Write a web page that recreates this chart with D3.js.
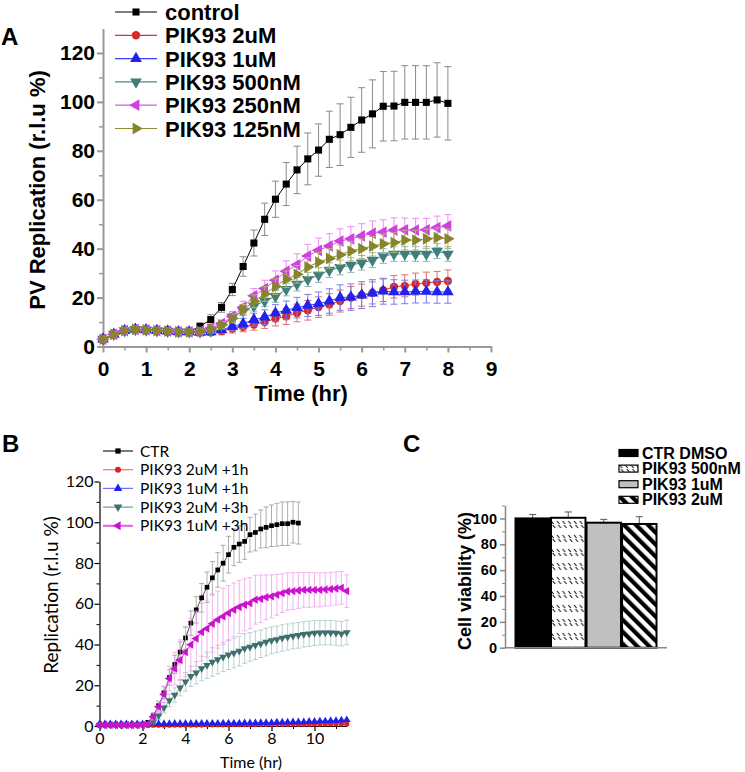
<!DOCTYPE html>
<html><head><meta charset="utf-8">
<script src="https://cdn.jsdelivr.net/npm/d3@7"></script>
<style>body{margin:0;background:#fff} svg{display:block}</style>
</head><body><svg id="chart" width="745" height="772"></svg>
<script>
// ---------- Panel A data ----------
const timeA = [0,0.25,0.5,0.75,1,1.25,1.5,1.75,2,2.25,2.5,2.75,3,3.25,3.5,3.75,4,4.25,4.5,4.75,5,5.25,5.5,5.75,6,6.25,6.5,6.75,7,7.25,7.5,7.75,8];
const seriesNamesA = ["control","PIK93 2uM","PIK93 1uM","PIK93 500nM","PIK93 250nM","PIK93 125nM"];
const controlA = [3,5,6.5,7,6.8,6.5,6.3,6,6,8.2,11,16,23.3,32.7,42.3,52,60.2,66.4,72.2,76.7,80.3,84.7,86.6,89.6,92.6,95.1,98.2,98.3,99.8,99.8,99.8,100.8,99.4];
const controlErrA = [1,1,1,1,1,1,1,1,1.2,1.5,2,2,2.5,4,5.3,6.6,7.4,8.8,9.7,10.6,10.7,11.5,12.6,12.3,13.2,13.9,14.2,14.2,15,15,15,15.2,15];
const pik2uMA = [3,5,6.5,7,6.8,6.5,6.3,6,6,5.8,5.8,6.3,7.3,8,9,10,11.4,12.3,13.7,14.8,16.1,17.2,18.6,20,21,21.9,23,24.4,24.8,25.5,26,26.4,26.8];
const pik2uMErrA = [1.2,1.2,1.2,1.2,1.2,1.2,1.2,1.2,1.2,1.2,1.3,1.5,1.8,2,2.3,2.6,3,3.3,3.6,4,4.2,4.4,4.5,4.5,4.5,4.5,4.6,4.6,4.5,4.5,4.4,4.3,4.5];
const pik1uMA = [3,5,6.5,7,6.8,6.5,6.3,6,6,5.8,6,6.8,8.2,9.3,11,12,13.7,14.8,15.9,16.8,17.5,18.6,20,20.2,21,21.8,22.6,22.3,22.3,22.5,22.5,22.3,22.3];
const pik1uMErrA = [1.2,1.2,1.2,1.2,1.2,1.2,1.2,1.2,1.2,1.2,1.3,1.5,1.8,2.2,2.6,3,3.4,3.8,4.2,4.5,4.8,5,5.2,5.4,5.5,5.5,5.3,5,4.8,4.7,4.7,4.6,4.6];
const pik500A = [3,5,6.5,7,6.8,6.5,6.3,6,6,6,6.5,8.5,12,14.5,16.5,18.5,20.5,23.3,25.5,27.4,29.2,31.2,32.3,33.3,34.2,35.3,37,37.8,37.8,37.8,37.8,39,37.8];
const pik500ErrA = [1,1,1,1,1,1,1,1,1,1,1.1,1.3,1.6,1.8,2,2.2,2.4,2.6,2.8,2.9,3,3,3,3,3,3,3,3,3,3,3,3,3];
const pik250A = [3,5,6.5,7,6.8,6.5,6.3,6,6,6.2,7.5,9.3,12.3,16,20.7,23.7,27.1,30.8,33.4,37,39.3,41.1,43.1,44,45.2,46.3,46.8,47.6,47.7,47.6,47.7,48.6,49.3];
const pik250ErrA = [1,1,1,1,1,1,1,1,1,1,1.2,1.5,2,2.5,3,3.4,3.8,4.2,4.5,4.8,5,5,5,5,5,5,5,5,4.8,4.8,4.7,4.7,4.6];
const pik125A = [3,5,6.5,7,6.8,6.5,6.3,6,6,6.2,7.2,8.8,11.5,15,18.5,21.5,24.5,27.5,29.5,32.5,34.5,36,37.5,39,40,41,42,42.5,43.5,43.5,44,44.5,44];
const pik125ErrA = [1,1,1,1,1,1,1,1,1,1,1.2,1.4,1.8,2.2,2.6,3,3.2,3.4,3.6,3.8,4,4,4,4,4,4,4,4,4,4,4,4,4];
const xTicksA = [0,1,2,3,4,5,6,7,8,9];
const yTicksA = [0,20,40,60,80,100,120];

// ---------- Panel B data ----------
const timeB = [0,0.25,0.5,0.75,1,1.25,1.5,1.75,2,2.25,2.5,2.75,3,3.25,3.5,3.75,4,4.25,4.5,4.75,5,5.25,5.5,5.75,6,6.25,6.5,6.75,7,7.25,7.5,7.75,8,8.25,8.5,8.75,9,9.25,9.5,9.75,10,10.25,10.5,10.75,11,11.25,11.5];
const seriesNamesB = ["CTR","PIK93 2uM +1h","PIK93 1uM +1h","PIK93 2uM +3h","PIK93 1uM +3h"];
const ctrB = [0.5,0.5,0.5,0.5,0.5,0.5,0.5,0.6,0.8,1.8,5,10,16.3,23.8,30.2,36.3,43.2,50.5,57,62.9,68.1,72.7,76.6,79.9,84.1,87.7,89.3,90.6,93.9,95,96.7,97.5,98.3,98.8,99.3,99.3,100,99.6];
const ctrErrB = [0.3,0.3,0.3,0.3,0.3,0.3,0.3,0.3,0.4,0.8,1.5,2.2,3,3.8,4.5,5,5.5,6,6.5,7,7.5,8,8.5,8.8,9,9,9,8.8,8.5,9,9.3,10,10.2,10.5,10.7,10.7,10.2,10.3];
const pik2uM1hB = [0.3,0.3,0.3,0.3,0.3,0.3,0.3,0.3,0.3,0.3,0.4,0.4,0.4,0.4,0.5,0.5,0.5,0.5,0.5,0.5,0.6,0.6,0.6,0.6,0.6,0.7,0.7,0.7,0.7,0.7,0.8,0.8,0.8,0.8,0.8,0.9,0.9,0.9,0.9,0.9,1,1,1,1,1,1,1];
const pik1uM1hB = [1,1,1,1,1,1,1,1,1,1,1.1,1.1,1.1,1.1,1.2,1.2,1.2,1.2,1.2,1.3,1.3,1.3,1.3,1.4,1.4,1.4,1.4,1.5,1.5,1.5,1.6,1.6,1.6,1.8,1.8,1.8,2,2,2,2.2,2.2,2.4,2.4,2.6,2.6,2.8,3];
const pik2uM3hB = [0.5,0.5,0.5,0.5,0.5,0.5,0.5,0.5,0.5,0.8,2,5,9,12.5,15.2,18.8,21.7,24.4,26.1,28.2,29.8,31.4,32.6,33.9,35,35.8,36.8,38,38.8,39.6,40.4,41.2,42,42.5,43.2,43.7,44.2,44.5,45,45.3,45.6,45.8,45.8,45.8,45.6,45.3,45.9];
const pik2uM3hErrB = [0.3,0.3,0.3,0.3,0.3,0.3,0.3,0.3,0.3,0.5,1,1.8,2.5,3,3.5,4,4.5,5,5.5,6,6.5,7,7,7.2,7.3,7.3,7.3,7.2,7,7,6.8,6.8,6.6,6.5,6.5,6.4,6.3,6.3,6.2,6.2,6.1,6,6,6,6,6,6];
const pik1uM3hB = [0.5,0.5,0.5,0.5,0.5,0.5,0.5,0.5,0.5,1,4.5,9.5,15.5,23.3,28.2,32.3,36.3,39.9,42.9,46.1,47.8,50.2,52.2,53.8,55.4,57,58.4,59.5,60.3,62,62.4,63.2,63.6,64.4,65.2,66,66.2,66.5,66.8,66.8,66.8,66.8,67,67.2,67.5,67.8,66.2];
const pik1uM3hErrB = [0.3,0.3,0.3,0.3,0.3,0.3,0.3,0.3,0.3,0.6,1.5,2.5,4,6,8,10,12,13,13.5,14,14,14,14,13.8,13.5,13.2,13,12.8,12.5,12,11.7,11,10.5,10,9.5,9.2,9,8.8,8.5,8.5,8.4,8.3,8.2,8.2,8.1,8,8];
const xTicksB = [0,2,4,6,8,10];
const yTicksB = [0,20,40,60,80,100,120];

// ---------- Panel C data ----------
const categoriesC = ["CTR DMSO","PIK93 500nM","PIK93 1uM","PIK93 2uM"];
const viabilityC = [100,100.5,96.7,95.7];
const viabilityErrC = [3,4.5,2.6,5.6];
const yTicksC = [0,20,40,60,80,100];

// ---------- drawing ----------
const svg = d3.select("#chart");
const defs = svg.append("defs");
const AR = "'Liberation Sans', Arial, sans-serif";
const LATO = "Lato, 'Liberation Sans', sans-serif";

const rot = {up:0, down:180, left:-90, right:90};
function marker(g, shape, size, x, y, fill) {
  let type = d3.symbolTriangle, r = 0;
  if (shape === "square") type = d3.symbolSquare;
  else if (shape === "circle") type = d3.symbolCircle;
  else r = rot[shape];
  g.append("path").attr("d", d3.symbol(type, size)())
    .attr("transform", `translate(${x},${y}) rotate(${r})`)
    .attr("fill", fill);
}

function drawSeries(g, x, y, times, vals, errs, st) {
  const pts = vals.map((v,i)=>({t:times[i], v, e: errs ? errs[i] : 0}));
  const eg = g.append("g").attr("stroke", st.errColor).attr("stroke-width", st.errW || 1).attr("fill","none");
  if (errs) pts.forEach(p => {
    const x0 = x(p.t), y1 = y(p.v + p.e), y2 = y(Math.max(0, p.v - p.e));
    eg.append("line").attr("x1",x0).attr("x2",x0).attr("y1",y1).attr("y2",y2);
    eg.append("line").attr("x1",x0-st.cap).attr("x2",x0+st.cap).attr("y1",y1).attr("y2",y1);
    eg.append("line").attr("x1",x0-st.cap).attr("x2",x0+st.cap).attr("y1",y2).attr("y2",y2);
  });
  g.append("path").datum(pts).attr("fill","none").attr("stroke", st.lineColor).attr("stroke-width", st.lineW || 1)
    .attr("d", d3.line().x(p=>x(p.t)).y(p=>y(p.v)));
  const mg = g.append("g");
  pts.forEach(p => marker(mg, st.shape, st.size, x(p.t), y(p.v), st.color));
}

function styleAxis(sel, col, w) {
  sel.selectAll("path.domain").attr("stroke", col).attr("stroke-width", w);
  sel.selectAll(".tick line").attr("stroke", col).attr("stroke-width", w);
}

// ===== Panel A =====
const xA = d3.scaleLinear().domain([0,9]).range([103,491]);
const yA = d3.scaleLinear().domain([0,130]).range([346.5,28.5]);
const gA = svg.append("g");
const axisColA = "#999";
const xAxA = gA.append("g").attr("transform","translate(0,346.5)")
  .call(d3.axisBottom(xA).tickValues(xTicksA).tickSize(6).tickSizeOuter(0).tickPadding(9).tickFormat(d3.format("d")));
styleAxis(xAxA, axisColA, 2);
xAxA.selectAll("text").attr("font-family",AR).attr("font-weight","bold").attr("font-size",21).attr("fill","#000");
const xAmin = gA.append("g").attr("transform","translate(0,346.5)")
  .call(d3.axisBottom(xA).tickValues(xTicksA.slice(0,-1).map(v=>v+0.5)).tickSize(4).tickFormat(""));
xAmin.select(".domain").remove(); xAmin.selectAll(".tick line").attr("stroke",axisColA).attr("stroke-width",1.5);
const yAxA = gA.append("g").attr("transform","translate(103,0)")
  .call(d3.axisLeft(yA).tickValues(yTicksA).tickSize(6).tickSizeOuter(0).tickPadding(2));
styleAxis(yAxA, axisColA, 2);
yAxA.selectAll("text").attr("font-family",AR).attr("font-weight","bold").attr("font-size",21).attr("fill","#000");
const yAmin = gA.append("g").attr("transform","translate(103,0)")
  .call(d3.axisLeft(yA).tickValues(yTicksA.slice(0,-1).map(v=>v+10)).tickSize(4).tickFormat(""));
yAmin.select(".domain").remove(); yAmin.selectAll(".tick line").attr("stroke",axisColA).attr("stroke-width",1.5);

const stylesA = [
  {shape:"square", size:50, color:"#000", lineColor:"#000", errColor:"#8a8a8a", cap:3.5},
  {shape:"circle", size:55, color:"#d42a2a", lineColor:"#e03030", errColor:"#e86a6a", cap:3.5},
  {shape:"up", size:60, color:"#2222ee", lineColor:"#4040ff", errColor:"#7a7af0", cap:3.5},
  {shape:"down", size:60, color:"#3e7f7c", lineColor:"#4a8a88", errColor:"#8fb5b3", cap:3.5},
  {shape:"left", size:60, color:"#d23fe0", lineColor:"#e050f0", errColor:"#ec8ef5", cap:3.5},
  {shape:"right", size:60, color:"#87852c", lineColor:"#8f8d30", errColor:"#b5b370", cap:3.5}
];
const dataA = [[controlA,controlErrA],[pik2uMA,pik2uMErrA],[pik1uMA,pik1uMErrA],[pik500A,pik500ErrA],[pik250A,pik250ErrA],[pik125A,pik125ErrA]];
const plotA = gA.append("g");
dataA.forEach((d,i)=> drawSeries(plotA, xA, yA, timeA, d[0], d[1], stylesA[i]));

const legA = gA.append("g");
seriesNamesA.forEach((n,i)=>{
  const y = 12 + i*23.3;
  legA.append("line").attr("x1",115).attr("x2",157).attr("y1",y).attr("y2",y).attr("stroke",stylesA[i].lineColor).attr("stroke-width",1.2);
  marker(legA, stylesA[i].shape, stylesA[i].size, 136, y, stylesA[i].color);
  legA.append("text").attr("x",165).attr("y",y+8).text(n)
    .attr("font-family",AR).attr("font-weight","bold").attr("font-size",22);
});
gA.append("text").text("A").attr("x",1).attr("y",45).attr("font-family",AR).attr("font-weight","bold").attr("font-size",24);
gA.append("text").text("PV Replication (r.l.u %)").attr("transform","translate(45,190) rotate(-90)")
  .attr("text-anchor","middle").attr("font-family",AR).attr("font-weight","bold").attr("font-size",22);
gA.append("text").text("Time (hr)").attr("x",301).attr("y",401).attr("text-anchor","middle")
  .attr("font-family",AR).attr("font-weight","bold").attr("font-size",22);

// ===== Panel B =====
const xB = d3.scaleLinear().domain([0,11.5]).range([99.5,346.75]);
const yB = d3.scaleLinear().domain([0,120]).range([726,481.5]);
const gB = svg.append("g");
const xAxB = gB.append("g").attr("transform","translate(0,726)")
  .call(d3.axisBottom(xB).tickValues(xTicksB).tickSize(5).tickSizeOuter(0).tickPadding(2).tickFormat(d3.format("d")));
styleAxis(xAxB, "#000", 1.2);
xAxB.selectAll("text").attr("font-family",LATO).attr("font-size",16).attr("fill","#000");
const xBmin = gB.append("g").attr("transform","translate(0,726)")
  .call(d3.axisBottom(xB).tickValues([1,3,5,7,9,11]).tickSize(3).tickFormat(""));
xBmin.select(".domain").remove(); xBmin.selectAll(".tick line").attr("stroke","#000");
const yAxB = gB.append("g").attr("transform","translate(99.5,0)")
  .call(d3.axisLeft(yB).tickValues(yTicksB).tickSize(5).tickSizeOuter(0).tickPadding(1));
styleAxis(yAxB, "#000", 1.2);
yAxB.selectAll("text").attr("font-family",LATO).attr("font-size",16).attr("fill","#000");
const yBmin = gB.append("g").attr("transform","translate(99.5,0)")
  .call(d3.axisLeft(yB).tickValues([10,30,50,70,90,110]).tickSize(3).tickFormat(""));
yBmin.select(".domain").remove(); yBmin.selectAll(".tick line").attr("stroke","#000");

const stylesB = [
  {shape:"square", size:22, color:"#000", lineColor:"#222", errColor:"#999", cap:2.5, lineW:0.8, errW:0.8},
  {shape:"circle", size:22, color:"#e02020", lineColor:"#f07070", errColor:"#f0a0a0", cap:2.5, lineW:1, errW:0.8},
  {shape:"up", size:26, color:"#2020ee", lineColor:"#7070ff", errColor:"#a0a0f0", cap:2.5, lineW:1, errW:0.8},
  {shape:"down", size:26, color:"#3f6e6c", lineColor:"#6f9896", errColor:"#a9c6c4", cap:2.5, lineW:1, errW:0.8},
  {shape:"left", size:30, color:"#cc10d0", lineColor:"#e060e8", errColor:"#f0a0f0", cap:2.5, lineW:1.2, errW:0.8}
];
const dataB = [[ctrB,ctrErrB],[pik2uM1hB,null],[pik1uM1hB,null],[pik2uM3hB,pik2uM3hErrB],[pik1uM3hB,pik1uM3hErrB]];
const plotB = gB.append("g");
dataB.forEach((d,i)=> drawSeries(plotB, xB, yB, timeB.slice(0,d[0].length), d[0], d[1], stylesB[i]));

const legB = gB.append("g");
seriesNamesB.forEach((n,i)=>{
  const y = 451 + i*18.7;
  legB.append("line").attr("x1",103).attr("x2",133).attr("y1",y).attr("y2",y).attr("stroke",stylesB[i].lineColor).attr("stroke-width", i===4?2:1.2);
  marker(legB, stylesB[i].shape, stylesB[i].size+6, 118, y, stylesB[i].color);
  legB.append("text").attr("x",140).attr("y",y+5.5).text(n).attr("font-family",LATO).attr("font-size",15.5);
});
gB.append("text").text("B").attr("x",2).attr("y",452).attr("font-family",AR).attr("font-weight","bold").attr("font-size",24);
gB.append("text").text("Replication (r.l.u %)").attr("transform","translate(58,595) rotate(-90)")
  .attr("text-anchor","middle").attr("font-family",LATO).attr("font-size",19);
gB.append("text").text("Time (hr)").attr("x",251).attr("y",768).attr("text-anchor","middle")
  .attr("font-family",LATO).attr("font-size",16);

// ===== Panel C =====
const pDots = defs.append("pattern").attr("id","pdots").attr("patternUnits","userSpaceOnUse")
  .attr("width",5.7).attr("height",14).attr("x",516).attr("y",518);
pDots.append("rect").attr("width",5.7).attr("height",14).attr("fill","#fff");
pDots.append("line").attr("x1",1).attr("y1",3).attr("x2",3.5).attr("y2",6).attr("stroke","#000").attr("stroke-width",1);
pDots.append("line").attr("x1",2.5).attr("y1",7).attr("x2",5).attr("y2",10).attr("stroke","#000").attr("stroke-width",1);
const pDiag = defs.append("pattern").attr("id","pdiag").attr("patternUnits","userSpaceOnUse")
  .attr("width",8.5).attr("height",8.5).attr("patternTransform","rotate(-45)");
pDiag.append("rect").attr("width",8.5).attr("height",8.5).attr("fill","#fff");
pDiag.append("rect").attr("width",4.2).attr("height",8.5).attr("fill","#000");
const fillsC = ["#000","url(#pdots)","#c0c0c0","url(#pdiag)"];

const xC = d3.scaleBand().domain(categoriesC).range([515.5,656.5]).paddingInner(0.03).paddingOuter(0);
const yC = d3.scaleLinear().domain([0,110]).range([647.7,505.5]);
const gC = svg.append("g");
const barsC = gC.append("g");
categoriesC.forEach((c,i)=>{
  const x0 = xC(c)+xC.bandwidth()/2, yt = yC(viabilityC[i]+viabilityErrC[i]);
  barsC.append("line").attr("x1",x0).attr("x2",x0).attr("y1",yt).attr("y2",yC(viabilityC[i])).attr("stroke","#555").attr("stroke-width",1);
  barsC.append("line").attr("x1",x0-3.5).attr("x2",x0+3.5).attr("y1",yt).attr("y2",yt).attr("stroke","#555").attr("stroke-width",1);
  barsC.append("rect").attr("x",xC(c)).attr("y",yC(viabilityC[i])).attr("width",xC.bandwidth())
    .attr("height",yC(0)-yC(viabilityC[i])).attr("fill",fillsC[i]).attr("stroke","#000").attr("stroke-width",2);
});
const yAxC = gC.append("g").attr("transform","translate(505,0)")
  .call(d3.axisLeft(yC).tickValues(yTicksC).tickSize(5).tickSizeOuter(0).tickPadding(3));
styleAxis(yAxC, "#888", 1.5);
yAxC.selectAll("text").attr("font-family",AR).attr("font-weight","bold").attr("font-size",14.5).attr("fill","#000");
const yCmin = gC.append("g").attr("transform","translate(505,0)")
  .call(d3.axisLeft(yC).tickValues([10,30,50,70,90,110]).tickSize(3).tickFormat(""));
yCmin.select(".domain").remove(); yCmin.selectAll(".tick line").attr("stroke","#888");
gC.append("line").attr("x1",505).attr("x2",667).attr("y1",647.7).attr("y2",647.7).attr("stroke","#888").attr("stroke-width",1.5);

const legC = gC.append("g");
categoriesC.forEach((c,i)=>{
  const y = 453 + i*15.6;
  legC.append("rect").attr("x",619).attr("y",y-3.5).attr("width",19).attr("height",7)
    .attr("fill",fillsC[i]).attr("stroke","#000").attr("stroke-width",1.2);
  legC.append("text").attr("x",642).attr("y",y+5.5).text(c)
    .attr("font-family",AR).attr("font-weight","bold").attr("font-size",16);
});
gC.append("text").text("C").attr("x",403).attr("y",452).attr("font-family",AR).attr("font-weight","bold").attr("font-size",24);
gC.append("text").text("Cell viability (%)").attr("transform","translate(471,581) rotate(-90)")
  .attr("text-anchor","middle").attr("font-family",AR).attr("font-weight","bold").attr("font-size",18);
</script>
</body></html>
